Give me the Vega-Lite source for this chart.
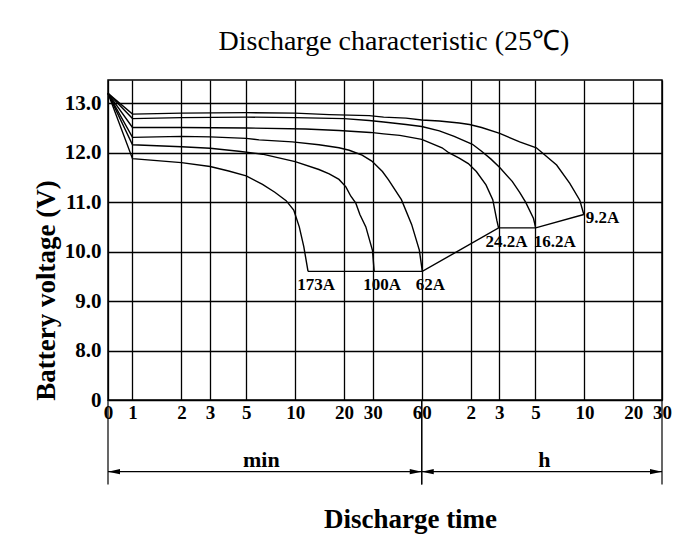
{
  "$schema": "https://vega.github.io/schema/vega-lite/v6.json",
  "width": 554,
  "height": 320,
  "autosize": {"type": "none"},
  "padding": {"left": 108, "top": 80, "right": 31, "bottom": 144},
  "background": "white",
  "config": {"view": {"stroke": "black", "strokeWidth": 1.5}, "font": "Liberation Serif"},
  "title": {"text": "Discharge characteristic (25℃)", "font": "Liberation Serif", "fontSize": 28, "fontWeight": "normal", "color": "black", "anchor": "middle", "frame": "group", "baseline": "alphabetic", "offset": 2, "dx": 9},
  "datasets": {
    "curves": [
      {"current": "173A", "time": 0.707, "voltage": 13.2},
      {"current": "173A", "time": 1, "voltage": 11.88},
      {"current": "173A", "time": 2, "voltage": 11.8},
      {"current": "173A", "time": 3, "voltage": 11.72},
      {"current": "173A", "time": 3.9, "voltage": 11.63},
      {"current": "173A", "time": 5, "voltage": 11.53},
      {"current": "173A", "time": 6.3, "voltage": 11.36},
      {"current": "173A", "time": 7.5, "voltage": 11.2},
      {"current": "173A", "time": 8.8, "voltage": 11.03},
      {"current": "173A", "time": 9.8, "voltage": 10.84},
      {"current": "173A", "time": 10.6, "voltage": 10.5},
      {"current": "173A", "time": 11.3, "voltage": 10.1},
      {"current": "173A", "time": 12.0, "voltage": 9.6},
      {"current": "100A", "time": 0.707, "voltage": 13.2},
      {"current": "100A", "time": 1, "voltage": 12.16},
      {"current": "100A", "time": 2, "voltage": 12.12},
      {"current": "100A", "time": 3, "voltage": 12.09},
      {"current": "100A", "time": 4.5, "voltage": 12.03},
      {"current": "100A", "time": 6.3, "voltage": 11.97},
      {"current": "100A", "time": 10, "voltage": 11.82},
      {"current": "100A", "time": 14, "voltage": 11.66},
      {"current": "100A", "time": 16.2, "voltage": 11.57},
      {"current": "100A", "time": 18.6, "voltage": 11.46},
      {"current": "100A", "time": 20.5, "voltage": 11.31},
      {"current": "100A", "time": 22, "voltage": 11.12},
      {"current": "100A", "time": 23.6, "voltage": 10.98},
      {"current": "100A", "time": 25, "voltage": 10.75},
      {"current": "100A", "time": 27.2, "voltage": 10.5},
      {"current": "100A", "time": 29.9, "voltage": 10.02},
      {"current": "100A", "time": 30.6, "voltage": 9.6},
      {"current": "62A", "time": 0.707, "voltage": 13.2},
      {"current": "62A", "time": 1, "voltage": 12.31},
      {"current": "62A", "time": 2, "voltage": 12.33},
      {"current": "62A", "time": 3, "voltage": 12.32},
      {"current": "62A", "time": 5, "voltage": 12.29},
      {"current": "62A", "time": 6, "voltage": 12.26},
      {"current": "62A", "time": 9.6, "voltage": 12.22},
      {"current": "62A", "time": 14, "voltage": 12.16},
      {"current": "62A", "time": 18.6, "voltage": 12.1},
      {"current": "62A", "time": 21.5, "voltage": 12.05},
      {"current": "62A", "time": 25.8, "voltage": 11.95},
      {"current": "62A", "time": 29.6, "voltage": 11.83},
      {"current": "62A", "time": 34.4, "voltage": 11.62},
      {"current": "62A", "time": 37.5, "voltage": 11.45},
      {"current": "62A", "time": 45, "voltage": 11.05},
      {"current": "62A", "time": 52, "voltage": 10.55},
      {"current": "62A", "time": 58, "voltage": 10.03},
      {"current": "62A", "time": 60.5, "voltage": 9.6},
      {"current": "24.2A", "time": 0.707, "voltage": 13.2},
      {"current": "24.2A", "time": 1, "voltage": 12.51},
      {"current": "24.2A", "time": 2, "voltage": 12.51},
      {"current": "24.2A", "time": 5, "voltage": 12.5},
      {"current": "24.2A", "time": 11.6, "voltage": 12.48},
      {"current": "24.2A", "time": 18.6, "voltage": 12.45},
      {"current": "24.2A", "time": 29, "voltage": 12.41},
      {"current": "24.2A", "time": 35, "voltage": 12.38},
      {"current": "24.2A", "time": 44, "voltage": 12.35},
      {"current": "24.2A", "time": 60, "voltage": 12.27},
      {"current": "24.2A", "time": 80, "voltage": 12.1},
      {"current": "24.2A", "time": 88, "voltage": 12.0},
      {"current": "24.2A", "time": 102, "voltage": 11.89},
      {"current": "24.2A", "time": 116, "voltage": 11.78},
      {"current": "24.2A", "time": 130, "voltage": 11.62},
      {"current": "24.2A", "time": 149, "voltage": 11.35},
      {"current": "24.2A", "time": 164, "voltage": 11.05},
      {"current": "24.2A", "time": 174, "voltage": 10.62},
      {"current": "24.2A", "time": 178, "voltage": 10.48},
      {"current": "16.2A", "time": 0.707, "voltage": 13.2},
      {"current": "16.2A", "time": 1, "voltage": 12.69},
      {"current": "16.2A", "time": 2, "voltage": 12.71},
      {"current": "16.2A", "time": 5, "voltage": 12.72},
      {"current": "16.2A", "time": 10, "voltage": 12.71},
      {"current": "16.2A", "time": 20, "voltage": 12.69},
      {"current": "16.2A", "time": 28.5, "voltage": 12.65},
      {"current": "16.2A", "time": 35, "voltage": 12.62},
      {"current": "16.2A", "time": 48, "voltage": 12.57},
      {"current": "16.2A", "time": 60, "voltage": 12.53},
      {"current": "16.2A", "time": 77, "voltage": 12.44},
      {"current": "16.2A", "time": 95, "voltage": 12.33},
      {"current": "16.2A", "time": 123, "voltage": 12.17},
      {"current": "16.2A", "time": 140, "voltage": 12.03},
      {"current": "16.2A", "time": 160, "voltage": 11.87},
      {"current": "16.2A", "time": 181, "voltage": 11.7},
      {"current": "16.2A", "time": 216, "voltage": 11.42},
      {"current": "16.2A", "time": 240, "voltage": 11.2},
      {"current": "16.2A", "time": 261, "voltage": 11.0},
      {"current": "16.2A", "time": 292, "voltage": 10.67},
      {"current": "16.2A", "time": 301, "voltage": 10.48},
      {"current": "9.2A", "time": 0.707, "voltage": 13.2},
      {"current": "9.2A", "time": 1, "voltage": 12.78},
      {"current": "9.2A", "time": 2, "voltage": 12.8},
      {"current": "9.2A", "time": 5, "voltage": 12.81},
      {"current": "9.2A", "time": 10, "voltage": 12.8},
      {"current": "9.2A", "time": 16.2, "voltage": 12.77},
      {"current": "9.2A", "time": 28.5, "voltage": 12.75},
      {"current": "9.2A", "time": 35, "voltage": 12.72},
      {"current": "9.2A", "time": 48, "voltage": 12.7},
      {"current": "9.2A", "time": 60, "voltage": 12.66},
      {"current": "9.2A", "time": 77, "voltage": 12.64},
      {"current": "9.2A", "time": 102, "voltage": 12.6},
      {"current": "9.2A", "time": 118, "voltage": 12.57},
      {"current": "9.2A", "time": 140, "voltage": 12.51},
      {"current": "9.2A", "time": 181, "voltage": 12.39},
      {"current": "9.2A", "time": 240, "voltage": 12.22},
      {"current": "9.2A", "time": 304, "voltage": 12.1},
      {"current": "9.2A", "time": 350, "voltage": 11.93},
      {"current": "9.2A", "time": 405, "voltage": 11.75},
      {"current": "9.2A", "time": 488, "voltage": 11.38},
      {"current": "9.2A", "time": 562, "voltage": 11.04},
      {"current": "9.2A", "time": 595, "voltage": 10.75}
    ],
    "endpoints": [
      {"current": "173A", "time": 12.0, "voltage": 9.6},
      {"current": "100A", "time": 30.6, "voltage": 9.6},
      {"current": "62A", "time": 60.5, "voltage": 9.6},
      {"current": "24.2A", "time": 178, "voltage": 10.48},
      {"current": "16.2A", "time": 301, "voltage": 10.48},
      {"current": "9.2A", "time": 595, "voltage": 10.75}
    ],
    "ranges": [
      {"unit": "min", "from": 0.707, "to": 60},
      {"unit": "h", "from": 60, "to": 1800}
    ]
  },
  "layer": [
    {
      "data": {"name": "curves"},
      "mark": {"type": "line", "color": "black", "strokeWidth": 1.4},
      "encoding": {
        "x": {
          "field": "time", "type": "quantitative",
          "scale": {"type": "log", "domain": [0.707, 1800], "nice": false},
          "axis": {
            "values": [0.707, 1, 2, 3, 5, 10, 20, 30, 60, 120, 180, 300, 600, 1200, 1800],
            "labelExpr": "datum.value < 0.9 ? '0' : datum.value >= 120 ? format(datum.value / 60, 'd') : format(datum.value, 'd')",
            "grid": true, "gridColor": "black", "gridWidth": 1.3, "gridOpacity": 1,
            "domain": false, "ticks": false, "tickSize": 0,
            "labelPadding": 3, "labelFont": "Liberation Serif", "labelFontSize": 19, "labelFontWeight": "bold", "labelColor": "black",
            "labelFlush": false, "labelOverlap": false, "labelBound": false,
            "title": "Discharge time", "titleFont": "Liberation Serif", "titleFontSize": 27, "titleFontWeight": "bold", "titleColor": "black",
            "titleX": 302, "titleY": 127, "titleAlign": "center", "titleBaseline": "alphabetic"
          }
        },
        "y": {
          "field": "voltage", "type": "quantitative",
          "scale": {"domain": [7, 13.47], "nice": false, "zero": false},
          "axis": {
            "values": [7, 8, 9, 10, 11, 12, 13],
            "labelExpr": "datum.value == 7 ? '0' : format(datum.value, '.1f')",
            "grid": true, "gridColor": "black", "gridWidth": 1.3, "gridOpacity": 1,
            "domain": false, "ticks": false, "tickSize": 0,
            "labelPadding": 7, "labelFont": "Liberation Serif", "labelFontSize": 21, "labelFontWeight": "bold", "labelColor": "black",
            "labelOverlap": false, "labelBound": false, "labelFlush": false,
            "title": "Battery voltage (V)", "titleFont": "Liberation Serif", "titleFontSize": 27, "titleFontWeight": "bold", "titleColor": "black",
            "titleX": -54, "titleY": 210, "titleAlign": "center", "titleBaseline": "alphabetic", "titleAngle": -90
          }
        },
        "detail": {"field": "current"}
      }
    },
    {
      "data": {"name": "endpoints"},
      "mark": {"type": "line", "color": "black", "strokeWidth": 1.4},
      "encoding": {
        "x": {"field": "time", "type": "quantitative"},
        "y": {"field": "voltage", "type": "quantitative"}
      }
    },
    {
      "data": {"name": "endpoints"},
      "transform": [{"filter": "indexof(['173A', '100A', '62A', '24.2A'], datum.current) >= 0"}],
      "mark": {"type": "text", "font": "Liberation Serif", "fontSize": 17, "fontWeight": "bold", "color": "black", "align": "center", "baseline": "middle", "dx": 8, "dy": 14},
      "encoding": {
        "x": {"field": "time", "type": "quantitative"},
        "y": {"field": "voltage", "type": "quantitative"},
        "text": {"field": "current"}
      }
    },
    {
      "data": {"name": "endpoints"},
      "transform": [{"filter": "datum.current == '16.2A'"}],
      "mark": {"type": "text", "font": "Liberation Serif", "fontSize": 17, "fontWeight": "bold", "color": "black", "align": "center", "baseline": "middle", "dx": 19, "dy": 14},
      "encoding": {
        "x": {"field": "time", "type": "quantitative"},
        "y": {"field": "voltage", "type": "quantitative"},
        "text": {"field": "current"}
      }
    },
    {
      "data": {"name": "endpoints"},
      "transform": [{"filter": "datum.current == '9.2A'"}],
      "mark": {"type": "text", "font": "Liberation Serif", "fontSize": 17, "fontWeight": "bold", "color": "black", "align": "left", "baseline": "middle", "dx": 2, "dy": 3},
      "encoding": {
        "x": {"field": "time", "type": "quantitative"},
        "y": {"field": "voltage", "type": "quantitative"},
        "text": {"field": "current"}
      }
    },
    {
      "data": {"name": "ranges"},
      "mark": {"type": "rule", "color": "black", "strokeWidth": 1.2},
      "encoding": {
        "x": {"field": "from", "type": "quantitative"},
        "y": {"datum": 7},
        "y2": {"datum": 5.29}
      }
    },
    {
      "data": {"name": "ranges"},
      "mark": {"type": "rule", "color": "black", "strokeWidth": 1.2},
      "encoding": {
        "x": {"field": "to", "type": "quantitative"},
        "y": {"datum": 7},
        "y2": {"datum": 5.29}
      }
    },
    {
      "data": {"name": "ranges"},
      "mark": {"type": "rule", "color": "black", "strokeWidth": 1.2},
      "encoding": {
        "x": {"field": "from", "type": "quantitative"},
        "x2": {"field": "to"},
        "y": {"datum": 5.55}
      }
    },
    {
      "data": {"name": "ranges"},
      "mark": {"type": "point", "shape": "M0,0L1,-0.22L1,0.22Z", "size": 576, "filled": true, "color": "black", "opacity": 1},
      "encoding": {
        "x": {"field": "from", "type": "quantitative"},
        "y": {"datum": 5.55}
      }
    },
    {
      "data": {"name": "ranges"},
      "mark": {"type": "point", "shape": "M0,0L-1,-0.22L-1,0.22Z", "size": 576, "filled": true, "color": "black", "opacity": 1},
      "encoding": {
        "x": {"field": "to", "type": "quantitative"},
        "y": {"datum": 5.55}
      }
    },
    {
      "data": {"values": [{"label": "min"}]},
      "mark": {"type": "text", "font": "Liberation Serif", "fontSize": 22, "fontWeight": "bold", "color": "black", "align": "center", "baseline": "alphabetic"},
      "encoding": {
        "x": {"datum": 6.2},
        "y": {"datum": 5.65},
        "text": {"field": "label"}
      }
    },
    {
      "data": {"values": [{"label": "h"}]},
      "mark": {"type": "text", "font": "Liberation Serif", "fontSize": 22, "fontWeight": "bold", "color": "black", "align": "center", "baseline": "alphabetic"},
      "encoding": {
        "x": {"datum": 340},
        "y": {"datum": 5.65},
        "text": {"field": "label"}
      }
    }
  ]
}
